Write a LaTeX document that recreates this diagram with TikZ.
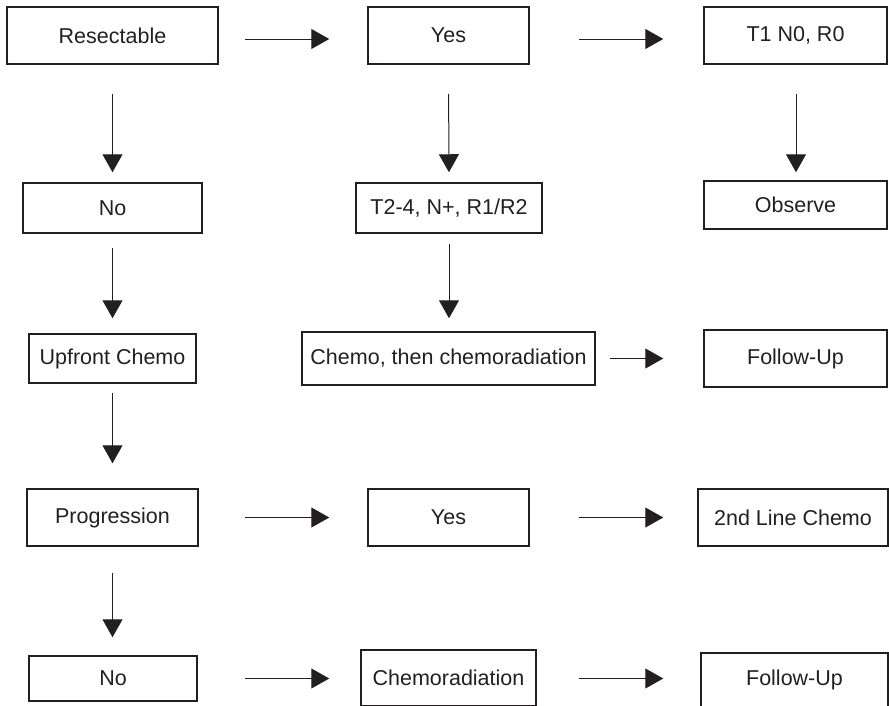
\documentclass[tikz,border=0pt]{standalone}
\usepackage{fontspec}
\setmainfont{Liberation Sans}
\usetikzlibrary{arrows.meta}
\definecolor{ink}{HTML}{231F20}
\begin{document}
\begin{tikzpicture}[x=1pt,y=-1pt,
  box/.style={draw=ink,line width=1.5pt,inner sep=0pt,text=ink,font=\fontsize{21.5}{25}\selectfont},
  arr/.style={draw=ink,line width=1pt,-{Triangle[length=18pt,width=20pt]}}]
\useasboundingbox (0,0) rectangle (889,705);
% row 1
\node[box,minimum width=211pt,minimum height=57pt] (res) at (112.5,35.5) {Resectable};
\node[box,minimum width=161pt,minimum height=57pt] (yes1) at (448.5,35.5) {Yes};
\node[box,minimum width=183pt,minimum height=57pt] (t1) at (795.5,35.5) {T1 N0, R0};
% row 2
\node[box,minimum width=179pt,minimum height=50pt] (no1) at (112.5,208) {No};
\node[box,minimum width=186pt,minimum height=50pt] (t24) at (449,208) {T2-4, N+, R1/R2};
\node[box,minimum width=183pt,minimum height=48pt] (obs) at (795.5,205) {Observe};
% row 3
\node[box,minimum width=167pt,minimum height=49pt] (up) at (112.5,358.5) {Upfront Chemo};
\node[box,minimum width=293pt,minimum height=53pt] (chemo) at (448.5,358.5) {Chemo, then chemoradiation};
\node[box,minimum width=183pt,minimum height=57pt] (fu1) at (795.5,358.5) {Follow-Up};
% row 4
\node[box,minimum width=171pt,minimum height=57pt] (prog) at (112.5,517.5) {Progression};
\node[box,minimum width=161pt,minimum height=57pt] (yes2) at (448.5,517.5) {Yes};
\node[box,minimum width=190pt,minimum height=57pt] (line2) at (793,517.5) {2nd Line Chemo};
% row 5
\node[box,minimum width=168pt,minimum height=45pt] (no2) at (113,678.5) {No};
\node[box,minimum width=175pt,minimum height=56pt] (crad) at (448.5,678) {Chemoradiation};
\node[box,minimum width=187pt,minimum height=54pt] (fu2) at (794.5,680) {Follow-Up};
% horizontal arrows
\draw[arr,shorten <=26pt,shorten >=38pt] ([yshift=-3.5pt]res.east) -- ([yshift=-3.5pt]yes1.west);
\draw[arr,shorten <=49pt,shorten >=40pt] ([yshift=-3.5pt]yes1.east) -- ([yshift=-3.5pt]t1.west);
\draw[arr,shorten <=14pt,shorten >=40pt] (chemo.east) -- (fu1.west);
\draw[arr,shorten <=46pt,shorten >=38pt] (prog.east) -- (yes2.west);
\draw[arr,shorten <=49pt,shorten >=34pt] (yes2.east) -- (line2.west);
\draw[arr,shorten <=47pt,shorten >=31pt] (no2.east) -- (no2.east -| crad.west);
\draw[arr,shorten <=42pt,shorten >=37pt] (no2.east -| crad.east) -- (no2.east -| fu2.west);
% vertical arrows
\draw[arr,shorten <=29pt,shorten >=10pt] (res.south) -- (no1.north);
\draw[arr,shorten <=29pt,shorten >=10pt] (yes1.south) -- (t24.north);
\draw[arr,shorten <=29pt,shorten >=8pt] ([xshift=0.5pt]t1.south) -- ([xshift=0.5pt]obs.north);
\draw[arr,shorten <=14pt,shorten >=15pt] (no1.south) -- (up.north);
\draw[arr,shorten <=10pt,shorten >=13pt] (t24.south) -- (t24.south |- chemo.north);
\draw[arr,shorten <=9pt,shorten >=25pt] (up.south) -- (prog.north);
\draw[arr,shorten <=26pt,shorten >=18pt] (prog.south) -- (prog.south |- no2.north);
\end{tikzpicture}
\end{document}
